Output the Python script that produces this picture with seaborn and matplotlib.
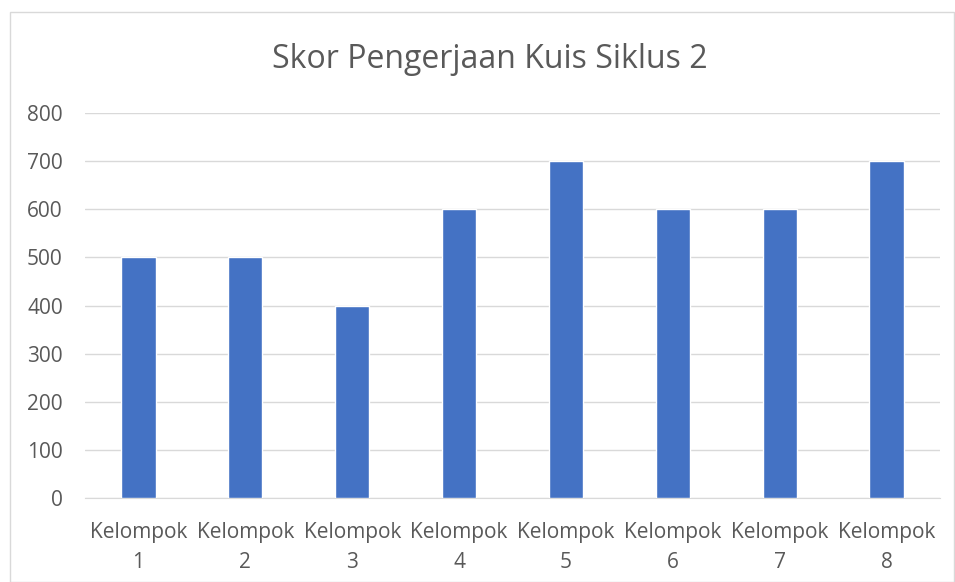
import matplotlib
matplotlib.use("Agg")
import matplotlib.pyplot as plt
import seaborn as sns
import pandas as pd

categories = ["Kelompok\n1", "Kelompok\n2", "Kelompok\n3", "Kelompok\n4",
              "Kelompok\n5", "Kelompok\n6", "Kelompok\n7", "Kelompok\n8"]
scores = [500, 500, 400, 600, 700, 600, 600, 700]
yticks = [0, 100, 200, 300, 400, 500, 600, 700, 800]
title = "Skor Pengerjaan Kuis Siklus 2"

sns.set_style("white")
plt.rcParams['font.family'] = ['Open Sans', 'DejaVu Sans']

df = pd.DataFrame({"cat": categories, "score": scores})

fig = plt.figure(figsize=(9.55, 5.82), dpi=100)
# chart border
fig.patches.append(plt.Rectangle((10/955, 0.0), 1 - 10/955 - 0.001, 1 - 12/582,
                                 transform=fig.transFigure, fill=False,
                                 edgecolor="#D9D9D9", linewidth=1))
ax = fig.add_axes([85/955, 1 - 498/582, (940 - 85)/955, (498 - 113)/582])
sns.barplot(data=df, x="cat", y="score", color="#4472C4", saturation=1,
            width=0.32, ax=ax, zorder=3)
ax.set_ylim(0, 800)
ax.set_yticks(yticks)
ax.set_xlim(-0.5, 7.5)
ax.yaxis.grid(True, color="#D9D9D9", linewidth=1, zorder=0)
ax.set_axisbelow(True)
for s in ["top", "right", "left"]:
    ax.spines[s].set_visible(False)
ax.spines["bottom"].set_color("#D9D9D9")
ax.tick_params(axis="both", length=0, colors="#595959", labelsize=15)
ax.tick_params(axis="y", pad=16)
ax.tick_params(axis="x", pad=17)
ax.set_xlabel("")
ax.set_ylabel("")
for lbl in ax.get_xticklabels():
    lbl.set_linespacing(1.6)
fig.text(490/955, 1 - 60/582, title, ha="center", va="center",
         fontsize=23, color="#595959")
fig.savefig("out.png", dpi=100)
